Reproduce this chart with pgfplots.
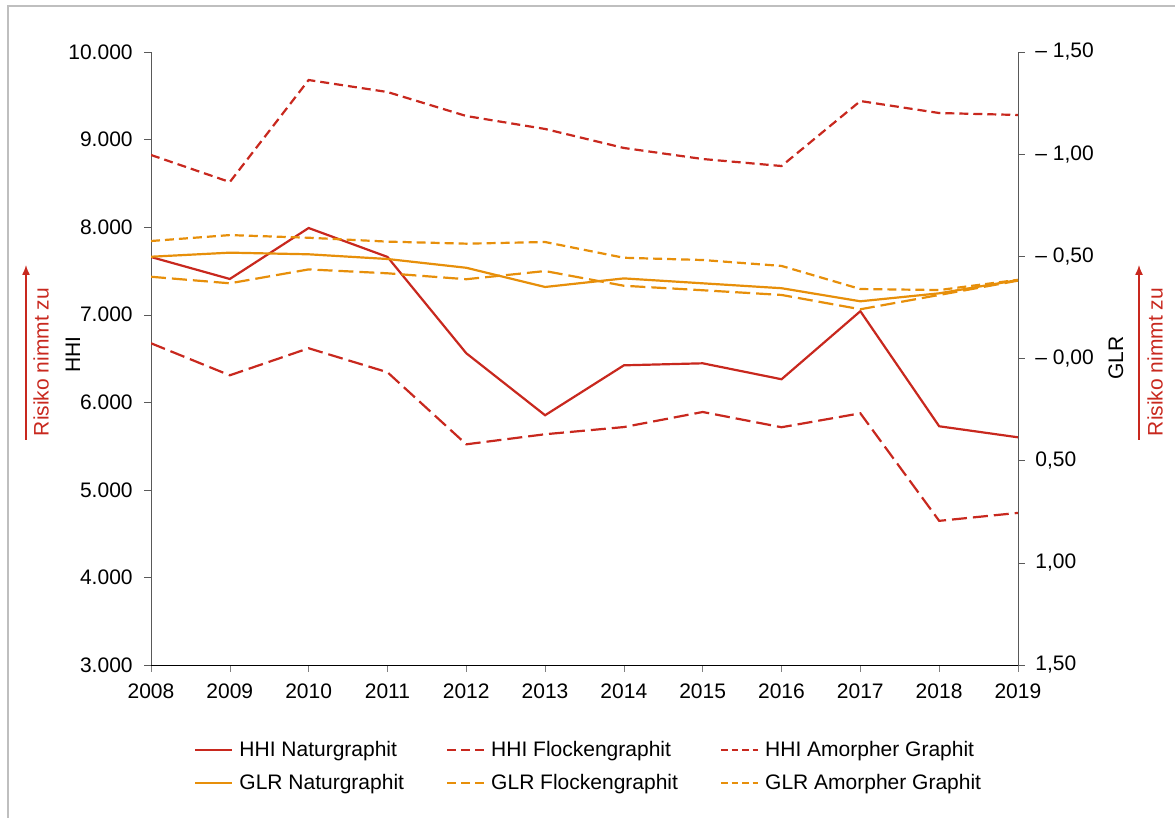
\documentclass[border=0pt]{standalone}
\usepackage{pgfplots}
\pgfplotsset{compat=1.18}
\usepackage{fontspec}
\setmainfont{Liberation Sans}
\usetikzlibrary{arrows.meta}
\definecolor{hred}{RGB}{200,40,30}
\definecolor{gorange}{RGB}{231,143,10}

\pgfplotstableread{
year natur flocken amorph
2008 7659 6674 8824
2009 7408 6308 8515
2010 7990 6617 9680
2011 7660 6343 9543
2012 6560 5520 9269
2013 5852 5635 9121
2014 6422 5717 8904
2015 6445 5889 8778
2016 6263 5715 8698
2017 7040 5874 9440
2018 5726 4646 9303
2019 5600 4737 9281
}\hhidata

\pgfplotstableread{
year natur flocken amorph
2008 -0.498 -0.400 -0.575
2009 -0.518 -0.368 -0.604
2010 -0.510 -0.436 -0.591
2011 -0.487 -0.417 -0.572
2012 -0.444 -0.388 -0.562
2013 -0.350 -0.428 -0.570
2014 -0.392 -0.356 -0.493
2015 -0.368 -0.334 -0.482
2016 -0.344 -0.311 -0.453
2017 -0.280 -0.241 -0.340
2018 -0.319 -0.311 -0.335
2019 -0.384 -0.381 -0.385
}\glrdata

\pgfplotsset{
  common/.style={
    scale only axis, width=433.5pt, height=306.5pt,
    at={(75.5pt,76.5pt)}, anchor=south west,
    xmin=2008, xmax=2019,
    tick align=outside, major tick length=3.5pt,
    axis line style={-},
    scaled y ticks=false,
  },
  dashA/.style={dash pattern=on 7.5pt off 3pt},
  dashB/.style={dash pattern=on 4.5pt off 2.5pt},
  ldashA/.style={dash pattern=on 4.5pt off 2.5pt},
  ldashB/.style={dash pattern=on 3.25pt off 2pt},
}

\begin{document}
\fontsize{10.5}{12.6}\selectfont
\begin{tikzpicture}
\path[use as bounding box] (0,0) rectangle (587.5pt,409pt);
\draw[black!25, line width=0.8pt] (4pt,0) -- (4pt,406pt) -- (587.5pt,406pt);

\begin{axis}[common,
  axis x line*=bottom, axis y line*=left,
  ymin=3000, ymax=10000, ytick={3000,4000,...,10000},
  yticklabels={3.000,4.000,5.000,6.000,7.000,8.000,9.000,10.000},
  yticklabel style={xshift=-2pt},
  xtick={2008,2009,...,2019},
  xticklabels={2008,2009,2010,2011,2012,2013,2014,2015,2016,2017,2018,2019},
  xticklabel style={yshift=-2pt},
  y axis line style={black!65}, ytick style={black!65},
  ylabel=HHI,
  ylabel style={at={(axis description cs:-0.09,0.506)}, anchor=center},
  legend columns=3,
  legend cell align=left,
  legend style={draw=none, fill=none, at={(0.506,-0.11)}, anchor=north,
    /tikz/every even column/.append style={column sep=19pt},
    row sep=3.5pt},
  legend image code/.code={\draw[#1] (0pt,0pt) -- (18.5pt,0pt); \path (19.5pt,0pt);},
]
\addplot[hred, line width=1.1pt, forget plot] table[x=year, y=natur] {\hhidata};
\addplot[hred, line width=1.1pt, dashA, forget plot] table[x=year, y=flocken] {\hhidata};
\addplot[hred, line width=1.1pt, dashB, forget plot] table[x=year, y=amorph] {\hhidata};
\addlegendimage{hred, line width=1.1pt}
\addlegendentry{HHI Naturgraphit}
\addlegendimage{hred, line width=1.1pt, ldashA}
\addlegendentry{HHI Flockengraphit}
\addlegendimage{hred, line width=1.1pt, ldashB}
\addlegendentry{HHI Amorpher Graphit}
\addlegendimage{gorange, line width=1.1pt}
\addlegendentry{GLR Naturgraphit}
\addlegendimage{gorange, line width=1.1pt, ldashA}
\addlegendentry{GLR Flockengraphit}
\addlegendimage{gorange, line width=1.1pt, ldashB}
\addlegendentry{GLR Amorpher Graphit}
\end{axis}

\begin{axis}[common,
  axis x line=none, axis y line*=right,
  y dir=reverse,
  ymin=-1.5, ymax=1.5, ytick={-1.5,-1,-0.5,0,0.5,1,1.5},
  yticklabels={{– 1,50},{– 1,00},{– 0,50},{– 0,00},{0,50},{1,00},{1,50}},
  yticklabel style={xshift=1.5pt},
  y axis line style={black!65}, ytick style={black!65},
  ylabel=GLR,
  ylabel style={at={(axis description cs:1.113,0.501)}, anchor=center, rotate=0},
]
\addplot[gorange, line width=1.1pt] table[x=year, y=natur] {\glrdata};
\addplot[gorange, line width=1.1pt, dashA] table[x=year, y=flocken] {\glrdata};
\addplot[gorange, line width=1.1pt, dashB] table[x=year, y=amorph] {\glrdata};
\end{axis}

\draw[hred, line width=0.7pt, -{Latex[length=5pt,width=4pt]}] (13pt,189pt) -- (13pt,276.5pt);
\node[hred, rotate=90] at (20.5pt,228pt) {Risiko nimmt zu};
\draw[hred, line width=0.7pt, -{Latex[length=5pt,width=4pt]}] (569.5pt,189pt) -- (569.5pt,276.5pt);
\node[hred, rotate=90] at (577.5pt,228pt) {Risiko nimmt zu};
\end{tikzpicture}
\end{document}
